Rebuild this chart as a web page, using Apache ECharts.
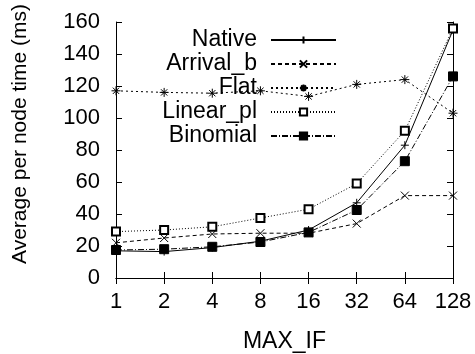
<!DOCTYPE html>
<html>
<head>
<meta charset="utf-8">
<script src="https://cdn.jsdelivr.net/npm/echarts@6/dist/echarts.min.js"></script>
<style>
  html, body { margin: 0; padding: 0; background: #fff; }
  #chart { width: 475px; height: 354px; }
</style>
</head>
<body>
<div id="chart"></div>
<script>
const categories = ["1", "2", "4", "8", "16", "32", "64", "128"]
const native = [17, 16.5, 19, 23, 30, 47, 83, 155]
const arrivalB = [22, 25, 27.5, 28, 28, 34, 51.5, 51.5]
const flat = [117, 116, 115.5, 117, 113.5, 121, 124, 103]
const linearPl = [29, 30, 32, 37.5, 43, 59, 92, 156]
const binomial = [17.5, 18, 19.5, 22.5, 28.5, 42.5, 73, 126]
const yTicks = { min: 0, max: 160, interval: 20 }

const FONT = "Liberation Sans"
const plusSym = "path://M0,5L10,5M5,0L5,10"
const crossSym = "path://M1,1L9,9M9,1L1,9"
const starSym = "path://M0,5L10,5M5,0L5,10M1.5,1.5L8.5,8.5M8.5,1.5L1.5,8.5"

const chart = echarts.init(document.getElementById("chart"))

function makeSeries(name, data, symbol, size, dash) {
  return {
    name: name,
    type: "line",
    data: data,
    symbol: symbol,
    symbolSize: size,
    showAllSymbol: true,
    lineStyle: { color: "#000", width: 1, type: dash },
    itemStyle: { color: "#000", borderColor: "#000", borderWidth: 1 },
  }
}

const option = {
  backgroundColor: "#fff",
  animation: false,
  textStyle: { fontFamily: FONT },
  grid: {
    left: 116, right: 22, top: 22, bottom: 76,
    containLabel: false,
    outerBoundsMode: "none",
  },
  legend: {
    orient: "vertical",
    align: "right",
    right: 138,
    top: 28.5,
    padding: 0,
    itemWidth: 65,
    itemHeight: 9,
    itemGap: 1,
    textStyle: {
      fontFamily: FONT,
      fontSize: 23,
      lineHeight: 23,
      color: "#000",
      padding: [0, 9, 0, 0],
    },
    data: ["Native", "Arrival_b", "Flat", "Linear_pl", "Binomial"],
  },
  xAxis: [
    {
      type: "category",
      data: categories,
      boundaryGap: false,
      name: "MAX_IF",
      nameLocation: "middle",
      nameGap: 52,
      nameTextStyle: { fontFamily: FONT, fontSize: 23, color: "#000" },
      axisLine: { lineStyle: { color: "#000", width: 1 } },
      axisTick: { inside: true, length: 6, lineStyle: { color: "#000" } },
      axisLabel: { fontFamily: FONT, fontSize: 22, color: "#000", margin: 13 },
      splitLine: { show: false },
    },
    {
      type: "category",
      data: categories,
      boundaryGap: false,
      position: "top",
      axisLine: { lineStyle: { color: "#000", width: 1 } },
      axisTick: { inside: true, length: 6, lineStyle: { color: "#000" } },
      axisLabel: { show: false },
      splitLine: { show: false },
    },
  ],
  yAxis: [
    {
      type: "value",
      min: yTicks.min,
      max: yTicks.max,
      interval: yTicks.interval,
      name: "Average per node time (ms)",
      nameLocation: "middle",
      nameGap: 85,
      nameTextStyle: { fontFamily: FONT, fontSize: 21, color: "#000", padding: [0, 0, 0, 32] },
      axisLine: { show: true, lineStyle: { color: "#000", width: 1 } },
      axisTick: { show: true, inside: true, length: 6, lineStyle: { color: "#000" } },
      axisLabel: { fontFamily: FONT, fontSize: 22, color: "#000", margin: 16 },
      splitLine: { show: false },
    },
    {
      type: "value",
      min: yTicks.min,
      max: yTicks.max,
      interval: yTicks.interval,
      position: "right",
      axisLine: { show: true, lineStyle: { color: "#000", width: 1 } },
      axisTick: { show: true, inside: true, length: 6, lineStyle: { color: "#000" } },
      axisLabel: { show: false },
      splitLine: { show: false },
    },
  ],
  series: [
    makeSeries("Native", native, plusSym, 8, "solid"),
    makeSeries("Arrival_b", arrivalB, crossSym, 8, [4, 3]),
    makeSeries("Flat", flat, starSym, 9, [2, 3]),
    makeSeries("Linear_pl", linearPl, "emptyRect", 8, [1, 2]),
    makeSeries("Binomial", binomial, "rect", 9, [6, 2, 1, 2]),
  ],
}

chart.setOption(option)
</script>
</body>
</html>
